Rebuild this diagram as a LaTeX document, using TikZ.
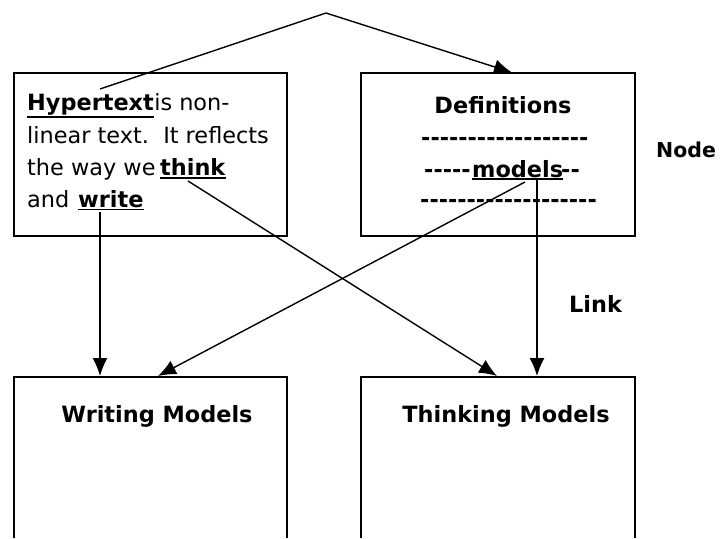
\documentclass[tikz,border=0pt]{standalone}
\usepackage{fontspec}
\setmainfont{DejaVu Sans}
\usetikzlibrary{arrows.meta}
% a run of separate hyphens (kerns keep them from turning into dashes)
\newcommand\dashrun[1]{\foreach \k in {1,...,#1}{-\kern0pt}}

\begin{document}
\begin{tikzpicture}[x=1pt,y=-1pt,
  txt/.style={inner sep=0pt, anchor=base west, font=\fontsize{22.4pt}{32pt}\selectfont},
  btxt/.style={txt, font=\fontsize{22.4pt}{32pt}\selectfont\bfseries},
  frame/.style={draw, line width=1.8pt},
  link/.style={line width=1.4pt, -{Latex[length=18pt,width=15pt]}},
  uline/.style={line width=1.6pt}]
\useasboundingbox (0,0) rectangle (727,538);

% the four boxes (the lower two run off the bottom edge)
\draw[frame] (14,73) rectangle (287,236);
\draw[frame] (361,73) rectangle (635,236);
\draw[frame] (14,538) |- (287,377) -- (287,538);
\draw[frame] (361,538) |- (635,377) -- (635,538);

% hypertext box
\node[btxt] (hyp) at (27,110) {Hypertext};
\node[txt] (isnon) at (hyp.base east) {is non-};
\node[txt] (line2) at (27,143) {linear text.\ \ It reflects};
\node[txt] (line3) at (27,175) {the way we};
\node[btxt] (think) at (160,175) {think};
\node[txt] (andw) at (27,207) {and};
\node[btxt] (write) at (78,207) {write};
\draw[uline] ([yshift=-7pt]hyp.base west) -- ([yshift=-7pt]hyp.base east);
\draw[uline] ([yshift=-3pt]think.base west) -- ([yshift=-3pt]think.base east);
\draw[uline] ([yshift=-2.5pt]write.base west) -- ([yshift=-2.5pt]write.base east);

% definitions box
\node[btxt, anchor=base] (defs) at (503,113) {Definitions};
\node[btxt] (dr1) at (421,145) {\dashrun{18}};
\node[btxt] (dr2) at (424,177) {\dashrun{5}};
\node[btxt] (models) at (472,177) {models};
\node[btxt] (dr2b) at (561,177) {\dashrun{2}};
\node[btxt] (dr3) at (420,207) {\dashrun{19}};
\draw[uline] ([yshift=-2pt]models.base west) -- ([yshift=-2pt]models.base east);

% lower box titles
\node[btxt, anchor=base] (wm) at (157,422) {Writing Models};
\node[btxt, anchor=base] (tm) at (506,422) {Thinking Models};

% side labels
\node[btxt, font=\fontsize{20.5pt}{28pt}\selectfont\bfseries] (nodelbl) at (656,157) {Node};
\node[btxt] (linklbl) at (569,312) {Link};

% connector end points
\coordinate (hstart) at (100,89);
\coordinate (apex) at (326,13);
\coordinate (dtop) at (512,72.5);
\coordinate (wstart) at (100,212);
\coordinate (wtop) at (100,376);
\coordinate (tstart) at (188,181);
\coordinate (ttop) at (497,376);
\coordinate (mstart) at (525,182);
\coordinate (mtop) at (158,376);
\coordinate (mvstart) at (537,180);
\coordinate (mvtop) at (537,376);

% links
\draw[link] (hstart) -- (apex) -- (dtop);
\draw[link] (wstart) -- (wtop);
\draw[link] (tstart) -- (ttop);
\draw[link] (mstart) -- (mtop);
\draw[link] (mvstart) -- (mvtop);
\end{tikzpicture}
\end{document}
